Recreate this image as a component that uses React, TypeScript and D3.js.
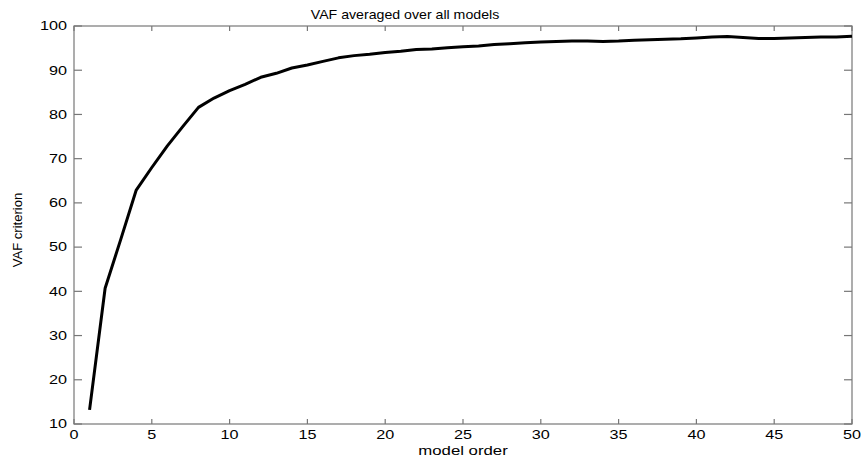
import React from "react";
import * as d3 from "d3";

const modelOrder: number[] = Array.from({ length: 50 }, (_, i) => i + 1);
const vaf: number[] = [
  13.2, 40.7, 51.7, 62.9, 68.0, 72.9, 77.3, 81.6, 83.7, 85.4,
  86.8, 88.4, 89.3, 90.5, 91.2, 92.0, 92.8, 93.3, 93.6, 94.0,
  94.3, 94.7, 94.8, 95.1, 95.3, 95.5, 95.8, 96.0, 96.2, 96.4,
  96.5, 96.6, 96.6, 96.5, 96.6, 96.8, 96.9, 97.0, 97.1, 97.3,
  97.5, 97.6, 97.4, 97.2, 97.2, 97.3, 97.4, 97.5, 97.5, 97.7,
];
const xTicks: number[] = [0, 5, 10, 15, 20, 25, 30, 35, 40, 45, 50];
const yTicks: number[] = [10, 20, 30, 40, 50, 60, 70, 80, 90, 100];
const title = "VAF averaged over all models";
const xLabel = "model order";
const yLabel = "VAF criterion";

const W = 864;
const H = 457;
const L = 74, R = 852, T = 26, B = 424;
const FONT = "'Liberation Sans', Arial, Helvetica, sans-serif";
const AX = "#777";

function T2({ x, y, sx, anchor, size, rot, children }: any) {
  return (
    <text
      transform={`translate(${x},${y})${rot ? ` rotate(${rot})` : ""} scale(${sx},1)`}
      textAnchor={anchor}
      fontFamily={FONT}
      fontSize={size}
      fill="#000"
    >
      {children}
    </text>
  );
}

export default function App() {
  const x = d3.scaleLinear().domain([0, 50]).range([L, R]);
  const y = d3.scaleLinear().domain([10, 100]).range([B, T]);
  const line = d3
    .line<number>()
    .x((_, i) => x(modelOrder[i]))
    .y((d) => y(d));
  return (
    <svg
      width={W}
      height={H}
      style={{ position: "absolute", left: 0, top: 0, background: "#fff" }}
    >
      <rect x={0} y={0} width={W} height={H} fill="#fff" />
      <rect x={L} y={T} width={R - L} height={B - T} fill="none" stroke={AX} strokeWidth={1.2} />
      {xTicks.map((t) => (
        <g key={"x" + t}>
          <line x1={x(t)} x2={x(t)} y1={B} y2={B - 5} stroke={AX} strokeWidth={1.2} />
          <line x1={x(t)} x2={x(t)} y1={T} y2={T + 5} stroke={AX} strokeWidth={1.2} />
          <T2 x={x(t)} y={438.5} sx={1.35} anchor="middle" size={12}>
            {t}
          </T2>
        </g>
      ))}
      {yTicks.map((t) => (
        <g key={"y" + t}>
          <line x1={L} x2={L + 8} y1={y(t)} y2={y(t)} stroke={AX} strokeWidth={1.2} />
          <line x1={R} x2={R - 8} y1={y(t)} y2={y(t)} stroke={AX} strokeWidth={1.2} />
          <T2 x={67} y={y(t) + 4.3} sx={1.35} anchor="end" size={12}>
            {t}
          </T2>
        </g>
      ))}
      <path d={line(vaf) || ""} fill="none" stroke="#000" strokeWidth={3} strokeLinejoin="round" />
      <T2 x={405} y={18.5} sx={1.18} anchor="middle" size={12}>
        {title}
      </T2>
      <T2 x={463} y={454.5} sx={1.4} anchor="middle" size={12}>
        {xLabel}
      </T2>
      <T2 x={22} y={230} rot={-90} sx={1.09} anchor="middle" size={12}>
        {yLabel}
      </T2>
    </svg>
  );
}
